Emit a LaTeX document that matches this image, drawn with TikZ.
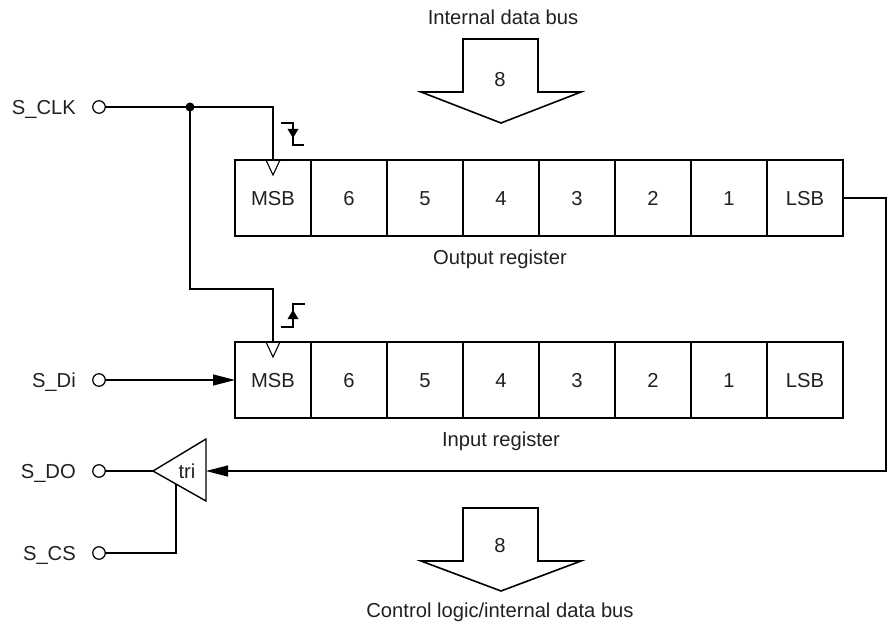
\documentclass[tikz,border=0pt]{standalone}
\usepackage{fontspec}
\setmainfont{Liberation Sans}
\usetikzlibrary{arrows.meta}
\definecolor{ink}{HTML}{231F20}
\begin{document}
\begin{tikzpicture}[x=1pt,y=-1pt,
  txt/.style={font=\fontsize{20.2}{24}\selectfont, text=ink, inner sep=0pt},
  cell/.style={txt, draw=black, line width=2.6pt, minimum width=76pt, minimum height=76pt, outer sep=0pt, text height=14.5pt, text depth=0pt},
  wire/.style={line width=1.1pt, draw=black},
  port/.style={circle, draw=black, line width=1.2pt, minimum size=12.5pt, inner sep=0pt, outer sep=0pt},
  tip/.style={-{Triangle[length=22pt,width=11pt]}},
  bigarrow/.style={draw=black, line width=1.6pt, line join=miter}
]
\useasboundingbox (0,0) rectangle (890,628);

% registers
\foreach \t [count=\i from 0] in {MSB,6,5,4,3,2,1,LSB} {
  \node[cell] (o\i) at (273+76*\i,198) {\t};
  \node[cell] (n\i) at (273+76*\i,380) {\t};
}
\node[txt] (olbl) at (500,259) {Output register};
\node[txt] (ilbl) at (501,441) {Input register};

% clock inputs (triangles)
\draw[wire, line join=miter] (o0.north) ++(-7,0) -- ++(7,15) -- ++(7,-15);
\draw[wire, line join=miter] (n0.north) ++(-7,0) -- ++(7,15) -- ++(7,-15);

% ports
\node[port] (cclk) at (99,107) {};
\node[port] (cdi)  at (99,380) {};
\node[port] (cdo)  at (99,471) {};
\node[port] (ccs)  at (99,553) {};
\node[txt, anchor=base east] (lclk) at (76,114.5) {S\_CLK};
\node[txt, anchor=base east] (ldi)  at (76,387.5) {S\_Di};
\node[txt, anchor=base east] (ldo)  at (76,478.5) {S\_DO};
\node[txt, anchor=base east] (lcs)  at (76,560.5) {S\_CS};

% clock wiring
\coordinate (dot) at (190,107);
\coordinate (bend) at (190,289);
\draw[wire] (cclk) -- (dot) -| (o0.north);
\draw[wire] (dot) -- (bend) -| (n0.north);
\fill[black] (dot) circle (4.5pt);

% edge symbols
\draw[wire] (281,123) -- (293,123) -- (293,145) -- (304,145);
\fill[black] (287.5,129) -- (298.5,129) -- (293,138) -- cycle;
\draw[wire] (281,327) -- (293,327) -- (293,304) -- (305,304);
\fill[black] (287.5,319) -- (298.5,319) -- (293,310) -- cycle;

% serial in
\draw[wire, tip] (cdi) -- (n0.west);

% tri-state buffer
\coordinate (triA) at (153,471);
\coordinate (triR) at (206,471);
\draw[line width=1.4pt, line join=miter] (triA) -- (206,439) -- (206,501) -- cycle;
\node[txt] (tri) at (187,471) {tri};
\draw[wire] (cdo) -- (triA);
\coordinate (csb) at (176,553);
\coordinate (cst) at (176,484);
\draw[wire] (ccs) -- (csb) -- (cst);

% LSB feedback
\coordinate (rc1) at (886,198);
\coordinate (rc2) at (886,471);
\draw[wire, tip] (o7.east) -- (rc1) -- (rc2) -- (triR);

% bus arrows
\draw[bigarrow] (463,39) -- (538,39) -- (538,92) -- (581,92) -- (501,123) -- (421,92) -- (463,92) -- cycle;
\node[txt] (b1) at (500,80) {8};
\node[txt] (tbus) at (503,17) {Internal data bus};
\draw[bigarrow] (463,508) -- (538,508) -- (538,561) -- (581,561) -- (501,591) -- (421,561) -- (463,561) -- cycle;
\node[txt] (b2) at (500,546) {8};
\node[txt] (bbus) at (500,612) {Control logic/internal data bus};
\end{tikzpicture}
\end{document}
